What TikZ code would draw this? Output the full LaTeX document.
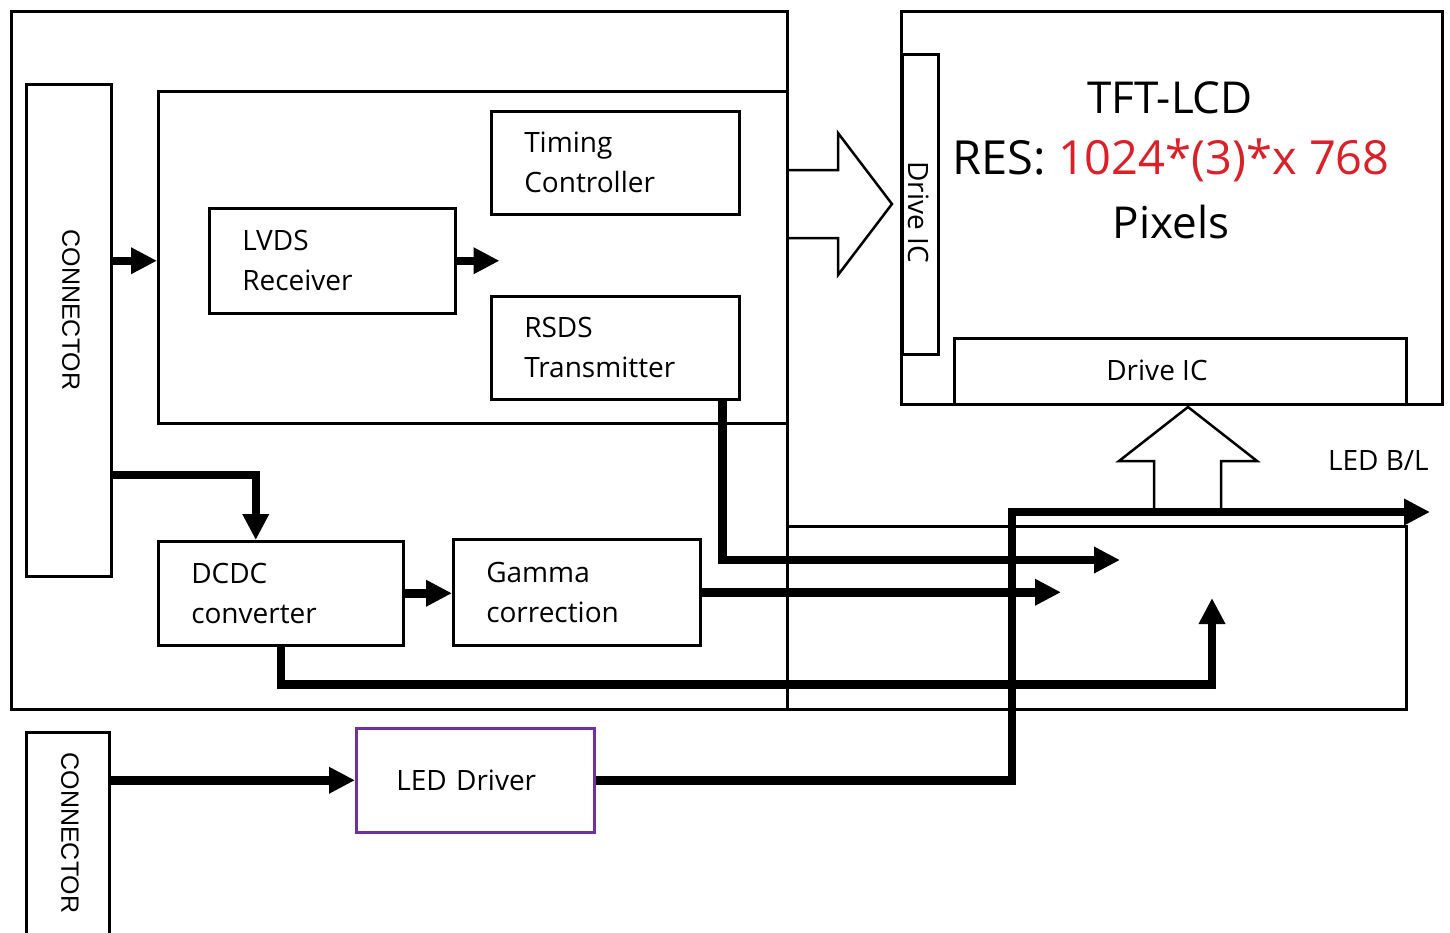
\documentclass[tikz,border=0pt]{standalone}
\usepackage{fontspec}
\setmainfont{Open Sans}
\newfontfamily\connfont{Liberation Sans}
\usetikzlibrary{arrows.meta}
\definecolor{resred}{RGB}{218,32,40}
\definecolor{drvpurple}{RGB}{112,48,160}

\begin{document}
\begin{tikzpicture}[x=1pt,y=-1pt, line width=2.5pt,
    frame/.style={draw, rectangle, anchor=north west, inner sep=0pt},
    block/.style={draw, rectangle, anchor=north west, align=left, inner xsep=33pt, inner ysep=0pt, font=\fontsize{28}{40}\selectfont},
    txt/.style={inner sep=0pt, font=\fontsize{28}{34}\selectfont},
    conn/.style={inner sep=0pt, rotate=-90, font=\connfont\fontsize{25}{30}\selectfont},
    big/.style={inner sep=0pt, font=\fontsize{44}{50}\selectfont},
    bus/.style={line width=8.5pt, -{Triangle[length=26pt,width=25pt]}}]
    \path[use as bounding box, fill=white] (0,0) rectangle (1450,932);

    % frames
    \node[frame, minimum width=776pt, minimum height=698pt] (board) at (10,10) {};
    \node[frame, minimum width=619pt, minimum height=183pt] (ext) at (786,525) {};
    \node[frame, minimum width=629pt, minimum height=332pt] (core) at (157,90) {};
    \node[frame, minimum width=85pt, minimum height=492pt] (con1) at (25,83) {};
    \node[frame, minimum width=83pt, minimum height=240pt] (con2) at (25,731) {};
    \node[conn] (con1txt) at (71,310) {CONNECTOR};
    \node[conn] (con2txt) at (70,833) {CONNECTOR};

    % blocks
    \node[block, text width=182pt, minimum height=103pt] (tc) at (490,110) {Timing\\Controller};
    \node[block, text width=180pt, minimum height=105pt] (lvds) at (208,207) {LVDS\\Receiver};
    \node[block, text width=182pt, minimum height=103pt] (rsds) at (490,295) {RSDS\\Transmitter};
    \node[block, text width=179pt, minimum height=104pt] (dcdc) at (157,540) {DCDC\\converter};
    \node[block, text width=181pt, minimum height=106pt] (gamma) at (452,538) {Gamma\\correction};
    \node[block, draw=drvpurple, inner xsep=40pt, text width=158pt, minimum height=104pt] (led) at (355,727) {LED Driver};

    % panel
    \node[frame, minimum width=541pt, minimum height=393pt] (tft) at (900,10) {};
    \node[frame, minimum width=36pt, minimum height=300pt] (dicv) at (901,53) {};
    \node[frame, minimum width=452pt, minimum height=66pt] (dich) at (953,337) {};
    \node[txt, rotate=-90] (dicvtxt) at (919,212) {Drive IC};
    \node[txt] (dichtxt) at (1157,370) {Drive IC};
    \node[big] (tfttxt) at (1170,98) {TFT-LCD};
    \node[big, font=\fontsize{47}{54}\selectfont] (restxt) at (1171,160) {RES: \textcolor{resred}{1024*(3)*x 768}};
    \node[big] (pixtxt) at (1171,222) {Pixels};
    \node[txt, anchor=east] (bltxt) at (1430,460) {LED B/L};

    % hollow arrows
    \draw (786,170) -- (838,170) -- (838,133) -- (892,204) -- (838,275) -- (838,238) -- (786,238);
    \draw (1154,508) -- (1154,461) -- (1119,461) -- (1188,407) -- (1257,461) -- (1221,461) -- (1221,508);

    % signal lines
    \coordinate (rsdsend) at (1120,560);
    \coordinate (gamend) at (1061,591);
    \coordinate (pwrend) at (1212,598);
    \coordinate (blturn) at (1012,512);
    \coordinate (blend) at (1430,512);
    \draw[bus] (con1.east |- lvds.east) -- (core.west |- lvds.east);
    \draw[bus] (lvds.east) -- ++(43,0);
    \draw[bus] (con1.east |- 0,475) -| ([xshift=-25pt]dcdc.north);
    \draw[bus] (dcdc.east) -- (gamma.west |- dcdc.east);
    \draw[bus] ([xshift=107pt]rsds.south) |- (rsdsend);
    \draw[bus] (gamma.east) -- (gamma.east -| gamend);
    \draw[bus] (dcdc.south) -- ++(0,38) -| (pwrend);
    \draw[bus] (con2.east |- led.west) -- (led.west);
    \draw[bus] (led.east) -| (blturn) -- (blend);
\end{tikzpicture}
\end{document}
